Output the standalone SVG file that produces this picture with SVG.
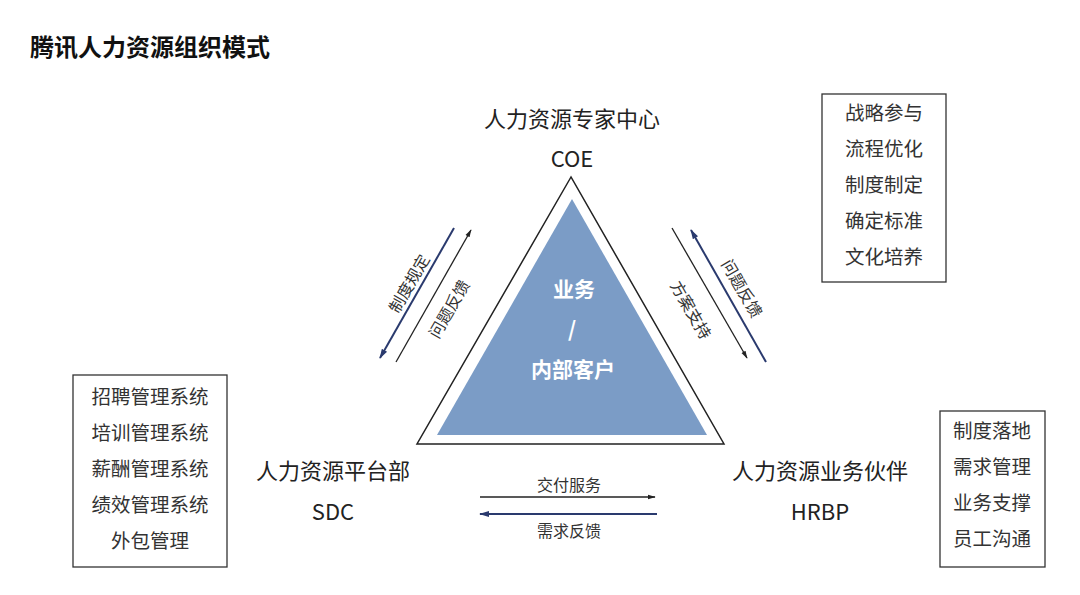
<svg xmlns="http://www.w3.org/2000/svg" width="1080" height="595" viewBox="0 0 1080 595">
<defs>
<style>
text{font-family:"Noto Sans CJK SC","Noto Sans",sans-serif;fill:#222;}
.t{font-size:22px;text-anchor:middle;}
.b{font-size:19.5px;text-anchor:middle;fill:#333;}
.a{font-size:16px;text-anchor:middle;fill:#333;}
.box{fill:#fff;stroke:#333;stroke-width:1.3;}
.w{fill:#fff;font-weight:bold;font-size:21px;text-anchor:middle;}
.lk{stroke:#222;stroke-width:1.3;fill:none;}
.ln{stroke:#2a3a6e;stroke-width:2;fill:none;}
</style>
<marker id="mk" viewBox="0 0 10 10" refX="9" refY="5" markerWidth="6" markerHeight="6" orient="auto-start-reverse"><path d="M0,2 L10,5 L0,8 z" fill="#222"/></marker>
<marker id="mn" viewBox="0 0 10 10" refX="9" refY="5" markerWidth="5" markerHeight="5" orient="auto-start-reverse"><path d="M0,2 L10,5 L0,8 z" fill="#2a3a6e"/></marker>
</defs>
<rect width="1080" height="595" fill="#fff"/>
<text x="30" y="56" style="font-size:24px;font-weight:bold;fill:#111">腾讯人力资源组织模式</text>

<g id="center">
<polygon points="571,177 417,444 724,444" fill="#fff" stroke="#222" stroke-width="1.5"/>
<polygon points="572,199 437,435 707,435" fill="#7b9cc6"/>
<text class="w" x="574" y="297">业务</text>
<text class="w" x="572" y="337">/</text>
<text class="w" x="573" y="377">内部客户</text>
</g>

<g id="coe">
<text class="t" x="572" y="127">人力资源专家中心</text>
<text class="t" x="572" y="167">COE</text>
<rect class="box" x="822" y="94" width="124" height="188"/>
<text class="b" x="884" y="120">战略参与</text>
<text class="b" x="884" y="156">流程优化</text>
<text class="b" x="884" y="192">制度制定</text>
<text class="b" x="884" y="228">确定标准</text>
<text class="b" x="884" y="264">文化培养</text>
</g>

<g id="sdc">
<text class="t" x="333" y="479">人力资源平台部</text>
<text class="t" x="333" y="520">SDC</text>
<rect class="box" x="73" y="375" width="154" height="192"/>
<text class="b" x="150" y="404">招聘管理系统</text>
<text class="b" x="150" y="440">培训管理系统</text>
<text class="b" x="150" y="476">薪酬管理系统</text>
<text class="b" x="150" y="512">绩效管理系统</text>
<text class="b" x="150" y="548">外包管理</text>
</g>

<g id="hrbp">
<text class="t" x="820" y="479">人力资源业务伙伴</text>
<text class="t" x="820" y="520">HRBP</text>
<rect class="box" x="940" y="411" width="105" height="156"/>
<text class="b" x="992" y="438">制度落地</text>
<text class="b" x="992" y="474">需求管理</text>
<text class="b" x="992" y="510">业务支撑</text>
<text class="b" x="992" y="546">员工沟通</text>
</g>

<g id="connectors">
<line class="ln" x1="454" y1="228" x2="380" y2="358" marker-end="url(#mn)"/>
<line class="lk" x1="396" y1="362" x2="471" y2="230" marker-end="url(#mk)"/>
<line class="lk" x1="672" y1="228" x2="747" y2="358" marker-end="url(#mk)"/>
<line class="ln" x1="766" y1="362" x2="691" y2="230" marker-end="url(#mn)"/>
<line class="lk" x1="480" y1="497" x2="655" y2="497" marker-end="url(#mk)"/>
<line class="ln" x1="657" y1="514" x2="480" y2="514" marker-end="url(#mn)"/>
<text class="a" transform="translate(410,284) rotate(-60)" y="5">制度规定</text>
<text class="a" transform="translate(449,309) rotate(-60)" y="6">问题反馈</text>
<text class="a" transform="translate(741,289) rotate(60)" y="5">问题反馈</text>
<text class="a" transform="translate(691,310) rotate(60)" y="6">方案支持</text>
<text class="a" x="569" y="491">交付服务</text>
<text class="a" x="569" y="537">需求反馈</text>
</g>
</svg>
